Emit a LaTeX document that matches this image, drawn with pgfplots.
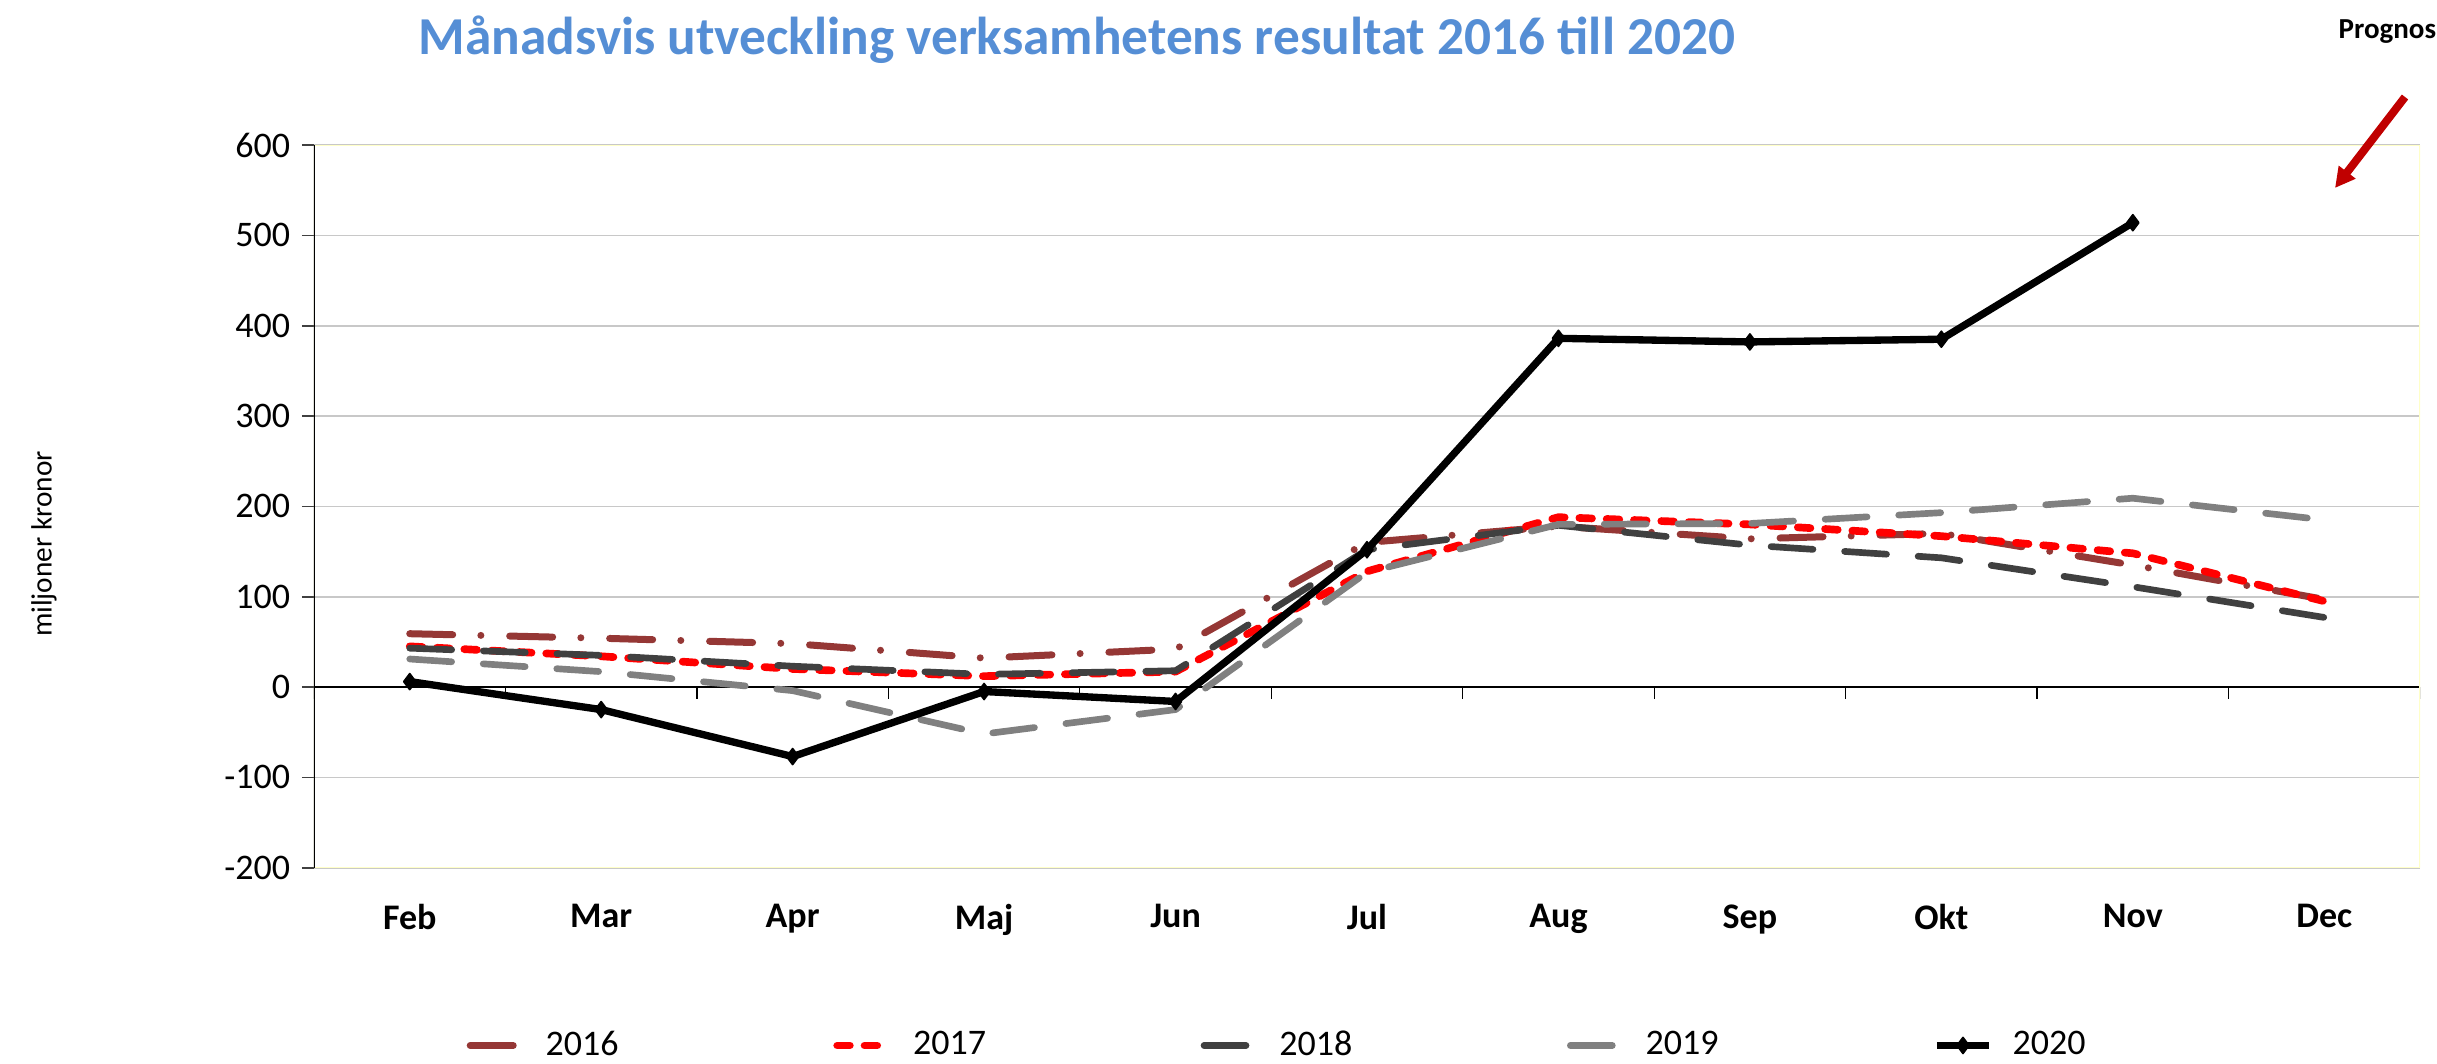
\documentclass[border=0pt]{standalone}
\usepackage{fontspec}
\setmainfont{Carlito}
\usepackage{pgfplots}
\pgfplotsset{compat=1.18}
\usetikzlibrary{arrows.meta}
\definecolor{c2016}{RGB}{149,55,53}
\definecolor{c2017}{RGB}{255,0,0}
\definecolor{c2018}{RGB}{64,64,64}
\definecolor{c2019}{RGB}{128,128,128}
\definecolor{titleblue}{RGB}{85,142,213}
\definecolor{borderyellow}{RGB}{255,255,200}
\definecolor{arrowred}{RGB}{192,0,0}
\definecolor{gridgray}{RGB}{200,200,200}
\begin{document}
\begin{tikzpicture}
\begin{axis}[
  at={(0pt,0pt)}, anchor=south west,
  scale only axis, width=631.8pt, height=216.8pt,
  xmin=-0.5, xmax=10.5, ymin=-200, ymax=600,
  xtick={0,...,10},
  xticklabels={Feb,Mar,Apr,Maj,Jun,Jul,Aug,Sep,Okt,Nov,Dec},
  ytick={-200,-100,0,100,200,300,400,500,600},
  yticklabels={-200,-100,0,100,200,300,400,500,600},
  ytick pos=left,
  tick align=outside,
  major tick length=3.6pt,
  xtick style={draw=none},
  ytick style={color=c2018, line width=0.5pt},
  axis line style={draw=none},
  ymajorgrids,
  major grid style={color=gridgray, line width=0.5pt},
  yticklabel style={font=\fontsize{10.8}{13}\selectfont},
  xticklabel style={font=\bfseries\fontsize{10.8}{13}\selectfont, yshift=-3.9pt},
  legend columns=5,
  legend cell align=left,
  legend image code/.code={\draw[mark repeat=2, mark phase=2, #1] plot coordinates {(0pt,0pt) (7.8pt,0pt) (15.6pt,0pt)};},
  legend style={draw=none, fill=none, inner sep=0pt,
    at={(axis description cs:0.0722,-0.246)}, anchor=west,
    font=\fontsize{10.8}{12}\selectfont,
    /tikz/every odd column/.append style={column sep=4pt},
    /tikz/every even column/.append style={column sep=62.4pt}},
]
% zero line with boundary ticks
\draw[black, line width=0.5pt] (axis cs:-0.5,0) -- (axis cs:10.5,0);
\pgfplotsinvokeforeach{-0.5,0.5,...,10.5}{\draw[black, line width=0.4pt] (axis cs:#1,0) -- ++(0pt,-3.6pt);}
% plot area border
\draw[borderyellow, line width=0.7pt] (rel axis cs:0,0) rectangle (rel axis cs:1,1);
\draw[black, line width=0.5pt] (rel axis cs:0,0) -- (rel axis cs:0,1);

\addplot[c2016, line width=2.1pt, line cap=round, line join=round,
  dash pattern=on 12.9pt off 8.45pt on 0pt off 8.65pt] coordinates {
  (0,59) (1,54) (2,48) (3,32) (4,42) (5,160) (6,178) (7,164) (8,170) (9,135) (10,97)};
\addplot[c2017, line width=2.3pt, line cap=round, line join=round,
  dash pattern=on 3.8pt off 4.4pt] coordinates {
  (0,45) (1,34) (2,20) (3,12) (4,17) (5,128) (6,188) (7,180) (8,167) (9,148) (10,95)};
\addplot[c2018, line width=2pt, line cap=round, line join=round,
  dash pattern=on 12.6pt off 9.5pt] coordinates {
  (0,43) (1,35) (2,23) (3,14) (4,18) (5,152) (6,179) (7,157) (8,143) (9,111) (10,77)};
\addplot[c2019, line width=2pt, line cap=round, line join=round,
  dash pattern=on 12.6pt off 9.5pt] coordinates {
  (0,31) (1,17) (2,-4) (3,-52) (4,-25) (5,127) (6,180) (7,181) (8,193) (9,209) (10,185)};
\addplot[black, line width=2.2pt, line join=round, mark=diamond*, mark size=2.4pt,
  mark options={solid, line width=0.5pt}] coordinates {
  (0,6) (1,-25) (2,-77) (3,-5) (4,-16) (5,152) (6,386) (7,382) (8,385) (9,514)};
\legend{2016,2017,2018,2019,2020}
\end{axis}
\node[anchor=base, font=\bfseries\fontsize{16}{18}\selectfont, text=titleblue]
  at (228.9pt,243.8pt) {Månadsvis utveckling verksamhetens resultat 2016 till 2020};
\node[anchor=base west, inner sep=0pt, font=\bfseries\fontsize{8.7}{10}\selectfont]
  at (607.2pt,248.6pt) {Prognos};
\draw[arrowred, line width=2.4pt, -{Triangle[length=6pt,width=6pt]}]
  (627.3pt,231.2pt) -- (606.3pt,203.9pt);
\node[rotate=90, font=\fontsize{8.8}{10}\selectfont] at (-81pt,97.1pt) {miljoner kronor};
\pgfresetboundingbox
\path[use as bounding box] (-94.2pt,-58.6pt) rectangle (636.9pt,260.3pt);
\end{tikzpicture}
\end{document}
